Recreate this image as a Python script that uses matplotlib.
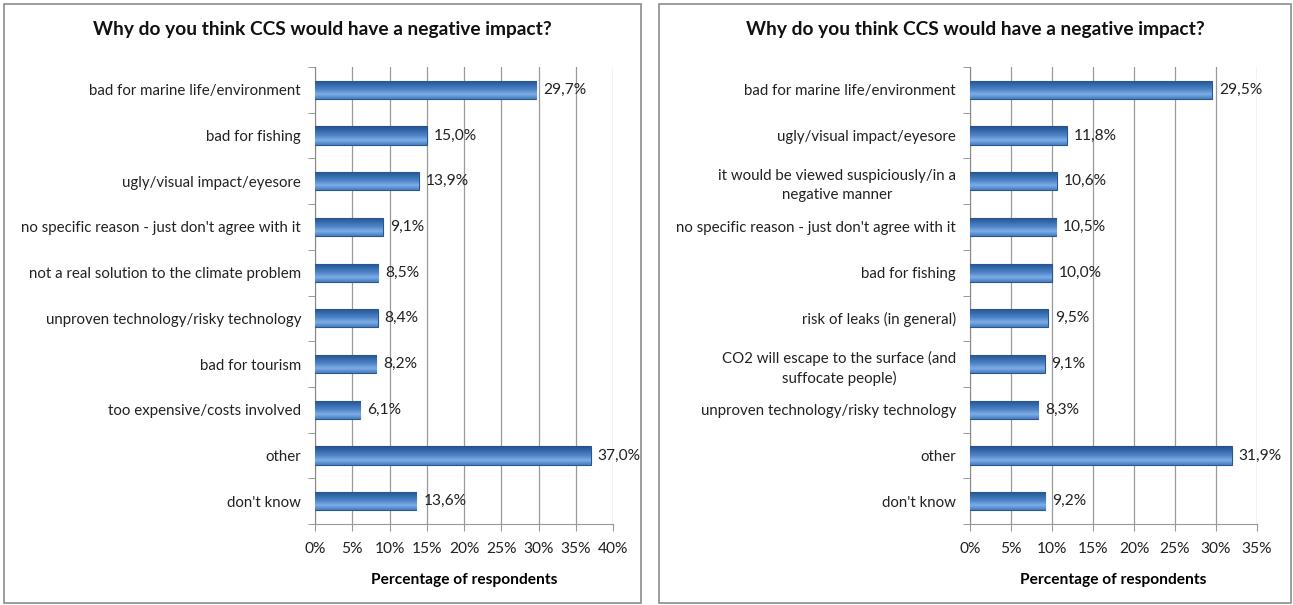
import matplotlib
matplotlib.use("Agg")
import matplotlib.pyplot as plt
from matplotlib.patches import Rectangle
from matplotlib.colors import LinearSegmentedColormap
import numpy as np

plt.rcParams['font.family'] = ['Lato', 'DejaVu Sans']

# ── DATA ─────────────────────────────────────────────────────────────────────
title = "Why do you think CCS would have a negative impact?"
xlabel = "Percentage of respondents"

left_cats = [
    "bad for marine life/environment",
    "bad for fishing",
    "ugly/visual impact/eyesore",
    "no specific reason - just don't agree with it",
    "not a real solution to the climate problem",
    "unproven technology/risky technology",
    "bad for tourism",
    "too expensive/costs involved",
    "other",
    "don't know",
]
left_vals = [29.7, 15.0, 13.9, 9.1, 8.5, 8.4, 8.2, 6.1, 37.0, 13.6]

right_cats = [
    "bad for marine life/environment",
    "ugly/visual impact/eyesore",
    "it would be viewed suspiciously/in a\nnegative manner",
    "no specific reason - just don't agree with it",
    "bad for fishing",
    "risk of leaks (in general)",
    "CO2 will escape to the surface (and\nsuffocate people)",
    "unproven technology/risky technology",
    "other",
    "don't know",
]
right_vals = [29.5, 11.8, 10.6, 10.5, 10.0, 9.5, 9.1, 8.3, 31.9, 9.2]

W, H = 1293, 605
fig = plt.figure(figsize=(W / 100, H / 100), dpi=100)

grad = LinearSegmentedColormap.from_list(
    "bar", ["#24508c", "#356aab", "#4f85c8", "#7faee6", "#447cc0"])


def px(x0, y0, x1, y1):
    # pixel box (top-left origin) -> figure fraction rect
    return [x0 / W, 1 - y1 / H, (x1 - x0) / W, (y1 - y0) / H]


def panel(box, axbox, cats, vals, xmax):
    # border round the panel
    fig.patches.append(Rectangle((box[0], box[1]), box[2], box[3],
                                 transform=fig.transFigure, fill=False,
                                 edgecolor='#8c8c8c', lw=1.2))
    fig.text(box[0] + box[2] / 2, 1 - 30 / H, title, ha='center', va='center',
             fontsize=13.8, fontweight='bold', color='#111111')

    ax = fig.add_axes(axbox)
    y = np.arange(len(cats))
    bars = ax.barh(y, vals, height=0.4, color='#4a7ebb',
                   edgecolor='#2a5690', lw=0.8, zorder=3)
    # gradient fill clipped to each bar
    g = np.linspace(0, 1, 64).reshape(-1, 1)
    for b in bars:
        x0, y0 = b.get_x(), b.get_y()
        im = ax.imshow(g, cmap=grad, aspect='auto', zorder=3.5,
                       extent=(x0, x0 + b.get_width(), y0 + b.get_height(), y0),
                       origin='upper', interpolation='bilinear')
        im.set_clip_path(b)
    for b, v in zip(bars, vals):
        ax.text(v + xmax * 0.024, b.get_y() + b.get_height() / 2,
                f"{v:.1f}%".replace('.', ','), va='center', ha='left',
                fontsize=11.2, color='#222222', zorder=5)

    ax.set_xlim(0, xmax)
    ax.set_ylim(len(cats) - 0.5, -0.5)
    ax.set_xticks(np.arange(0, xmax + 0.1, 5))
    ax.set_xticklabels([f"{t:d}%" for t in range(0, int(xmax) + 1, 5)])
    ax.set_yticks(y)
    ax.set_yticklabels(cats, multialignment='center', linespacing=1.45)
    ax.set_yticks(np.arange(len(cats) + 1) - 0.5, minor=True)
    ax.tick_params(axis='y', which='major', length=0, pad=10, labelsize=10.8,
                   colors='#222222')
    ax.tick_params(axis='y', which='minor', length=5, color='#888888')
    ax.tick_params(axis='x', length=5, color='#999999', pad=8, labelsize=11.2,
                   labelcolor='#222222')
    ax.grid(axis='x', color='#999999', lw=0.9, zorder=0)
    for s in ['top', 'right']:
        ax.spines[s].set_visible(False)
    ax.spines['left'].set_color('#888888')
    ax.spines['bottom'].set_color('#999999')
    ax.set_xlabel(xlabel, fontsize=11.2, fontweight='bold', labelpad=12)
    return ax


panel(px(4, 4, 641, 603), px(315, 67, 613, 524), left_cats, left_vals, 40)
panel(px(659, 4, 1291, 603), px(970, 67, 1257, 524), right_cats, right_vals, 35)

fig.savefig("out.png", dpi=100)
